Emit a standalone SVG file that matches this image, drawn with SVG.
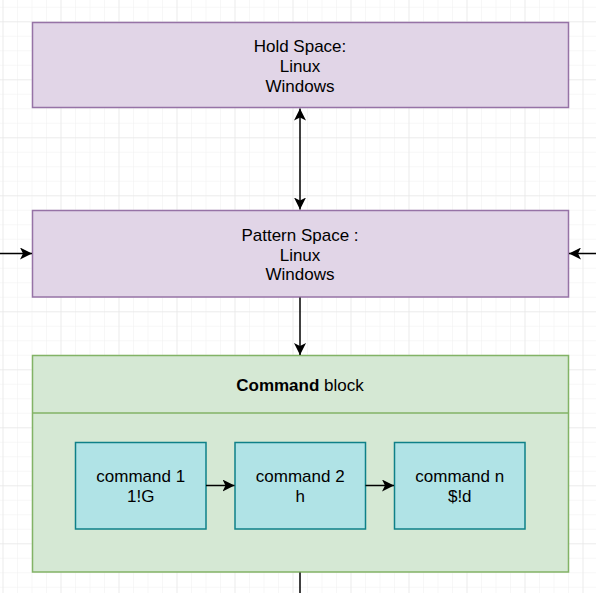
<svg xmlns="http://www.w3.org/2000/svg" width="596" height="593" viewBox="0 0 596 593">
  <defs>
    <pattern id="minor" patternUnits="userSpaceOnUse" x="2.5" y="6.8" width="14.5" height="14.5">
      <path d="M0,0 H14.5 M0,0 V14.5" fill="none" stroke="#f0f0f0" stroke-width="1"/>
    </pattern>
    <pattern id="major" patternUnits="userSpaceOnUse" x="2.5" y="21.3" width="58" height="58">
      <path d="M0,0 H58 M0,0 V58" fill="none" stroke="#e3e3e3" stroke-width="1"/>
    </pattern>
    <marker id="arrow" markerUnits="userSpaceOnUse" markerWidth="12" markerHeight="12" refX="12" refY="6" orient="auto-start-reverse">
      <path d="M0,0 L12,6 L0,12 L3,6 Z" fill="#000"/>
    </marker>
  </defs>
  <style>
    text { font-family: "Liberation Sans", Arial, sans-serif; font-size: 17px; fill: #000; text-anchor: middle; }
    .purple { fill: #e1d5e7; stroke: #9673a6; stroke-width: 1.5; }
    .green { fill: #d5e8d4; stroke: #82b366; stroke-width: 1.5; }
    .cyan { fill: #b0e3e6; stroke: #0e8088; stroke-width: 1.5; }
    .edge { fill: none; stroke: #000; stroke-width: 1.5; }
  </style>
  <rect width="596" height="593" fill="#ffffff"/>
  <rect width="596" height="593" fill="url(#minor)"/>
  <rect width="596" height="593" fill="url(#major)"/>

  <g id="hold-space">
    <rect class="purple" x="32.5" y="22.5" width="536" height="85"/>
    <text x="300" y="52.3">Hold Space:</text>
    <text x="300" y="72">Linux</text>
    <text x="300" y="91.7">Windows</text>
  </g>

  <g id="pattern-space">
    <rect class="purple" x="32.5" y="210.5" width="536" height="86.5"/>
    <text x="300" y="241">Pattern Space :</text>
    <text x="300" y="260.7">Linux</text>
    <text x="300" y="280.4">Windows</text>
  </g>

  <g id="command-block">
    <rect class="green" x="32.5" y="355.5" width="536" height="216.5"/>
    <line x1="32.5" y1="413" x2="568.5" y2="413" stroke="#82b366" stroke-width="1.5"/>
    <text x="300" y="391"><tspan font-weight="bold">Command</tspan> block</text>
  </g>

  <g id="command-1">
    <rect class="cyan" x="75.5" y="442.5" width="130.5" height="86.5"/>
    <text x="140.75" y="481.8">command 1</text>
    <text x="140.75" y="502">1!G</text>
  </g>

  <g id="command-2">
    <rect class="cyan" x="235" y="442.5" width="130.5" height="86.5"/>
    <text x="300.25" y="481.8">command 2</text>
    <text x="300.25" y="502">h</text>
  </g>

  <g id="command-n">
    <rect class="cyan" x="394.5" y="442.5" width="130.5" height="86.5"/>
    <text x="459.75" y="481.8">command n</text>
    <text x="459.75" y="502">$!d</text>
  </g>

  <g id="connectors">
    <line class="edge" x1="300" y1="108.5" x2="300" y2="209.5" marker-start="url(#arrow)" marker-end="url(#arrow)"/>
    <line class="edge" x1="0" y1="253.5" x2="32" y2="253.5" marker-end="url(#arrow)"/>
    <line class="edge" x1="596" y1="253.5" x2="569" y2="253.5" marker-end="url(#arrow)"/>
    <line class="edge" x1="300" y1="297.5" x2="300" y2="355" marker-end="url(#arrow)"/>
    <line class="edge" x1="206" y1="485.5" x2="234.5" y2="485.5" marker-end="url(#arrow)"/>
    <line class="edge" x1="365.5" y1="485.5" x2="394" y2="485.5" marker-end="url(#arrow)"/>
    <line class="edge" x1="300" y1="572.5" x2="300" y2="593"/>
  </g>
</svg>
